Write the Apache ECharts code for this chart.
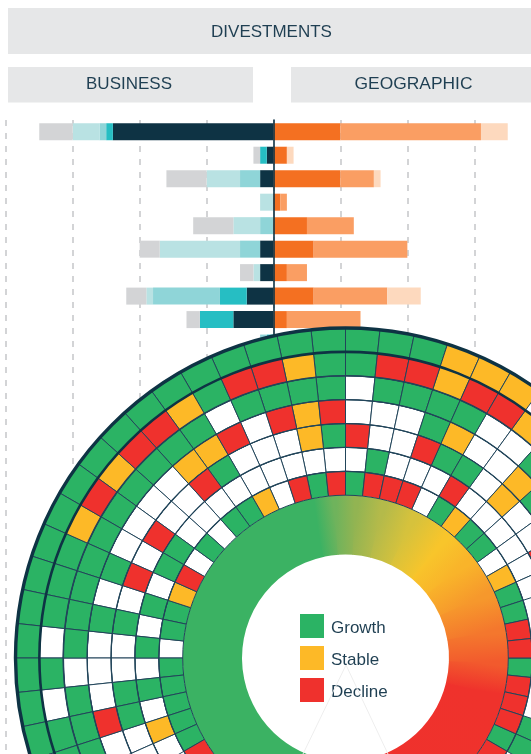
<!DOCTYPE html>
<html><head><meta charset="utf-8">
<style>html,body{margin:0;padding:0;background:#fff}#c{width:531px;height:754px}</style>
<script src="https://cdn.jsdelivr.net/npm/echarts@6/dist/echarts.min.js"></script>
</head><body><div id="c"></div>
<script>
// ---- bar data (counts per row) ----
const rows = ['1','2','3','4','5','6','7','8','9','10'];
const bizDark  = [24,1,2,0,0,2,2,4,6,0];
const bizTeal  = [1,1,0,0,0,0,0,4,5,1];
const bizMid   = [1,0,3,0,2,3,0,10,0,1];
const bizPale  = [4,0,5,2,4,12,1,1,0,0];
const bizGrey  = [5,1,6,0,6,3,2,3,2,0];
const geoStrong= [10,2,10,1,5,6,2,6,2,1];
const geoMid   = [21,0,5,1,7,14,3,11,11,0];
const geoPale  = [4,1,1,0,0,0,0,5,0,0];
const xTicks = {min:-40,max:40,step:10};

// ---- ring data: W none, G growth, Y stable, R decline, _ off the picture ----
const W=0,G=1,Y=2,R=3,_=null;
// clockwise from 12 o'clock
const ring1Cw=[G,R,R,R,W,G,Y,G,G,W,Y,G,G,R,R,G,R,R,R,G,R];
const ring2Cw=[W,G,W,W,W,R,W,W,W,W,W,W,_,_,_,_,_,_,G,G,_];
const ring3Cw=[R,W,W,R,G,G,W,Y,W,W,R];
const ring4Cw=[W,W,W,G,Y,W,W,Y,G];
const ring5Cw=[W,G,G,G,G,W,W,G];
const ring6Cw=[G,R,R,Y,R,R,Y];
const ring7Cw=[G,G,G,Y,Y,Y];
// counter-clockwise from 12 o'clock
const ring1Ccw=[R,G,R,W,Y,G,G,W,G,W,R,Y,G,G,W,G,G,G,G,G,R];
const ring2Ccw=[W,W,W,W,W,W,W,W,W,G,G,W,G,W,G,W,G,W,Y,W];
const ring3Ccw=[G,Y,W,W,W,G,R,W,W,R,W,R,W,G,W,W,G,G,W,W];
const ring4Ccw=[R,Y,R,W,R,Y,Y,W,W,W,W,G,W,G,W,W,W,R,W];
const ring5Ccw=[G,G,G,G,W,G,G,G,G,G,G,G,G,G,G,W,G,G,G];
const ring6Ccw=[G,Y,R,R,G,Y,R,R,Y,R,Y,G,G,G,W,G,W,G,G];
const ring7Ccw=[G,G,G,G,G,G,G,G,G,G,G,G,G,G,G,G,G,G,G];
const ringsCw=[ring1Cw,ring2Cw,ring3Cw,ring4Cw,ring5Cw,ring6Cw,ring7Cw];
const ringsCcw=[ring1Ccw,ring2Ccw,ring3Ccw,ring4Ccw,ring5Ccw,ring6Ccw,ring7Ccw];
const ringNames=['r1','r2','r3','r4','r5','r6','r7'];
const segments=Array.from({length:60},(_v,i)=>String(i));

// ---- centre band colour stops (degrees clockwise from 12 o'clock) ----
const donutAngles=[-180,-12,-4,4,14,26,40,52,66,80,92,104,180];
const donutColors=['#3BB263','#3BB263','#6FB35C','#92B452','#B4BA4A','#D6C23C','#F8C52B','#F9B42A','#F6982C','#F4772D','#F25A2D','#EF322C','#EF312D'];

const colors={dark:'#0E3344',teal:'#26BEC3',mid:'#8FD5D8',pale:'#B9E2E3',grey:'#D3D4D6',
  o1:'#F47021',o2:'#FA9E63',o3:'#FDD9BE',green:'#2BB364',yellow:'#FDB927',red:'#EF312D',
  ink:'#1F3F52',line:'#22455A',box:'#E6E7E8'};

function cellData(state){
  const out=[];
  ringsCw.forEach((a,r)=>a.forEach((s,i)=>{if(s===state)out.push([r,i]);}));
  ringsCcw.forEach((a,r)=>a.forEach((s,i)=>{if(s===state)out.push([r,59-i]);}));
  return out;
}
function cellSeries(name,state,fill){
  return {name,type:'custom',coordinateSystem:'polar',z:6,silent:true,
    encode:{radius:0,angle:1},itemStyle:{color:fill},data:cellData(state),
    renderItem(params,api){
      const v=[api.value(0),api.value(1)];
      const c=api.coord(v),s=api.size([1,1],v);
      return {type:'sector',shape:{cx:params.coordSys.cx,cy:params.coordSys.cy,
        r0:c[2]-s[0]/2,r:c[2]+s[0]/2,startAngle:-(c[3]+s[1]/2),endAngle:-(c[3]-s[1]/2)},
        style:{fill,stroke:colors.line,lineWidth:1}};
    }};
}
function bar(name,stack,values,color,sign){
  return {name,type:'bar',stack,barWidth:17,silent:true,itemStyle:{color},
    data:values.map(v=>v*sign)};
}
const ringEdge=[1.2,1.3,1.3,1.3,1.6,2.6,3.4];
const rad=t=>(t-90)*Math.PI/180;

const chart=echarts.init(document.getElementById('c'),null,{renderer:'canvas'});
chart.setOption({
  animation:false,backgroundColor:'#fff',
  grid:{left:5.8,top:120,width:535.4,height:634,containLabel:false,outerBoundsMode:'none'},
  xAxis:{type:'value',min:xTicks.min,max:xTicks.max,interval:xTicks.step,
    axisLabel:{show:false},axisLine:{show:false},axisTick:{show:false},
    splitLine:{show:true,lineStyle:{color:'#C9CACC',width:1.6,type:[6,7]}}},
  yAxis:{type:'category',inverse:true,data:rows.concat(Array(17).fill('')),z:3,
    axisLabel:{show:false},axisTick:{show:false},splitLine:{show:false},
    axisLine:{show:true,onZero:true,lineStyle:{color:colors.dark,width:1.6}}},
  polar:{center:[345.5,658],radius:[162.8,330]},
  angleAxis:{type:'category',data:segments,startAngle:90,clockwise:true,boundaryGap:true,
    axisLine:{show:false},axisTick:{show:false},axisLabel:{show:false},splitLine:{show:false}},
  radiusAxis:{type:'category',data:ringNames,boundaryGap:true,
    axisLine:{show:false},axisTick:{show:false},axisLabel:{show:false},splitLine:{show:false}},
  legend:{show:true,orient:'vertical',left:300,top:614,padding:0,itemWidth:24,itemHeight:24,itemGap:8,
    icon:'rect',selectedMode:false,z:20,data:['Growth','Stable','Decline'],
    formatter:'{t|{name}}',
    textStyle:{color:colors.ink,fontFamily:'Liberation Sans',fontSize:17,
      rich:{t:{color:colors.ink,fontFamily:'Liberation Sans',fontSize:17,padding:[5,0,0,2]}}}},
  series:[
    bar('Business dark','s',bizDark,colors.dark,-1),
    bar('Business teal','s',bizTeal,colors.teal,-1),
    bar('Business mid','s',bizMid,colors.mid,-1),
    bar('Business pale','s',bizPale,colors.pale,-1),
    bar('Business grey','s',bizGrey,colors.grey,-1),
    bar('Geographic strong','s',geoStrong,colors.o1,1),
    bar('Geographic mid','s',geoMid,colors.o2,1),
    bar('Geographic pale','s',geoPale,colors.o3,1),
    {name:'Centre band',type:'custom',coordinateSystem:'polar',z:5,silent:true,
      encode:{radius:0,angle:1},data:[[0,0]],
      renderItem(params){
        const cx=params.coordSys.cx,cy=params.coordSys.cy,outer=params.coordSys.r,r0=params.coordSys.r0,hole=103.5;
        const kids=[{type:'circle',shape:{cx,cy,r:outer},style:{fill:'#fff'}}];
        for(let i=0;i<donutAngles.length-1;i++){
          const a=rad(donutAngles[i]),b=rad(donutAngles[i+1]),m=(hole+r0)/2;
          kids.push({type:'sector',shape:{cx,cy,r0:hole,r:r0,startAngle:a-0.004,endAngle:b+0.004},
            style:{fill:new echarts.graphic.LinearGradient(
              cx+m*Math.cos(a),cy+m*Math.sin(a),cx+m*Math.cos(b),cy+m*Math.sin(b),
              [{offset:0,color:donutColors[i]},{offset:1,color:donutColors[i+1]}],true)}});
        }
        return {type:'group',children:kids};
      }},
    cellSeries('No status',W,'#FFFFFF'),
    cellSeries('Growth',G,colors.green),
    cellSeries('Stable',Y,colors.yellow),
    cellSeries('Decline',R,colors.red),
    {name:'Ring edges',type:'custom',coordinateSystem:'polar',z:7,silent:true,
      encode:{radius:0,angle:1},data:ringNames.map((_n,i)=>[i,0]),
      renderItem(params,api){
        const v=[api.value(0),0],c=api.coord(v),s=api.size([1,1],v);
        const lw=ringEdge[api.value(0)];
        return {type:'arc',shape:{cx:params.coordSys.cx,cy:params.coordSys.cy,r:c[2]+s[0]/2,startAngle:0,endAngle:Math.PI*2},
          style:{fill:'none',stroke:lw>2?colors.dark:colors.line,lineWidth:lw}};
      }}
  ],
  graphic:{elements:[
    {type:'rect',shape:{x:8,y:8,width:523,height:46},style:{fill:colors.box},z:1},
    {type:'rect',shape:{x:8,y:67,width:245,height:35.5},style:{fill:colors.box},z:1},
    {type:'rect',shape:{x:291,y:67,width:240,height:35.5},style:{fill:colors.box},z:1},
    {type:'text',x:271.5,y:32,style:{text:'DIVESTMENTS',fill:colors.ink,font:'17px "Liberation Sans"',align:'center',verticalAlign:'middle'},z:2},
    {type:'text',x:129,y:84.5,style:{text:'BUSINESS',fill:colors.ink,font:'17px "Liberation Sans"',align:'center',verticalAlign:'middle'},z:2},
    {type:'text',x:413.5,y:84.5,style:{text:'GEOGRAPHIC',fill:colors.ink,font:'17.4px "Liberation Sans"',align:'center',verticalAlign:'middle'},z:2},
    {type:'polyline',shape:{points:[[303,754],[346,665],[388,754]]},style:{fill:'none',stroke:'#EEEEEE',lineWidth:1},z:30,silent:true}
  ]}
});
</script></body></html>
